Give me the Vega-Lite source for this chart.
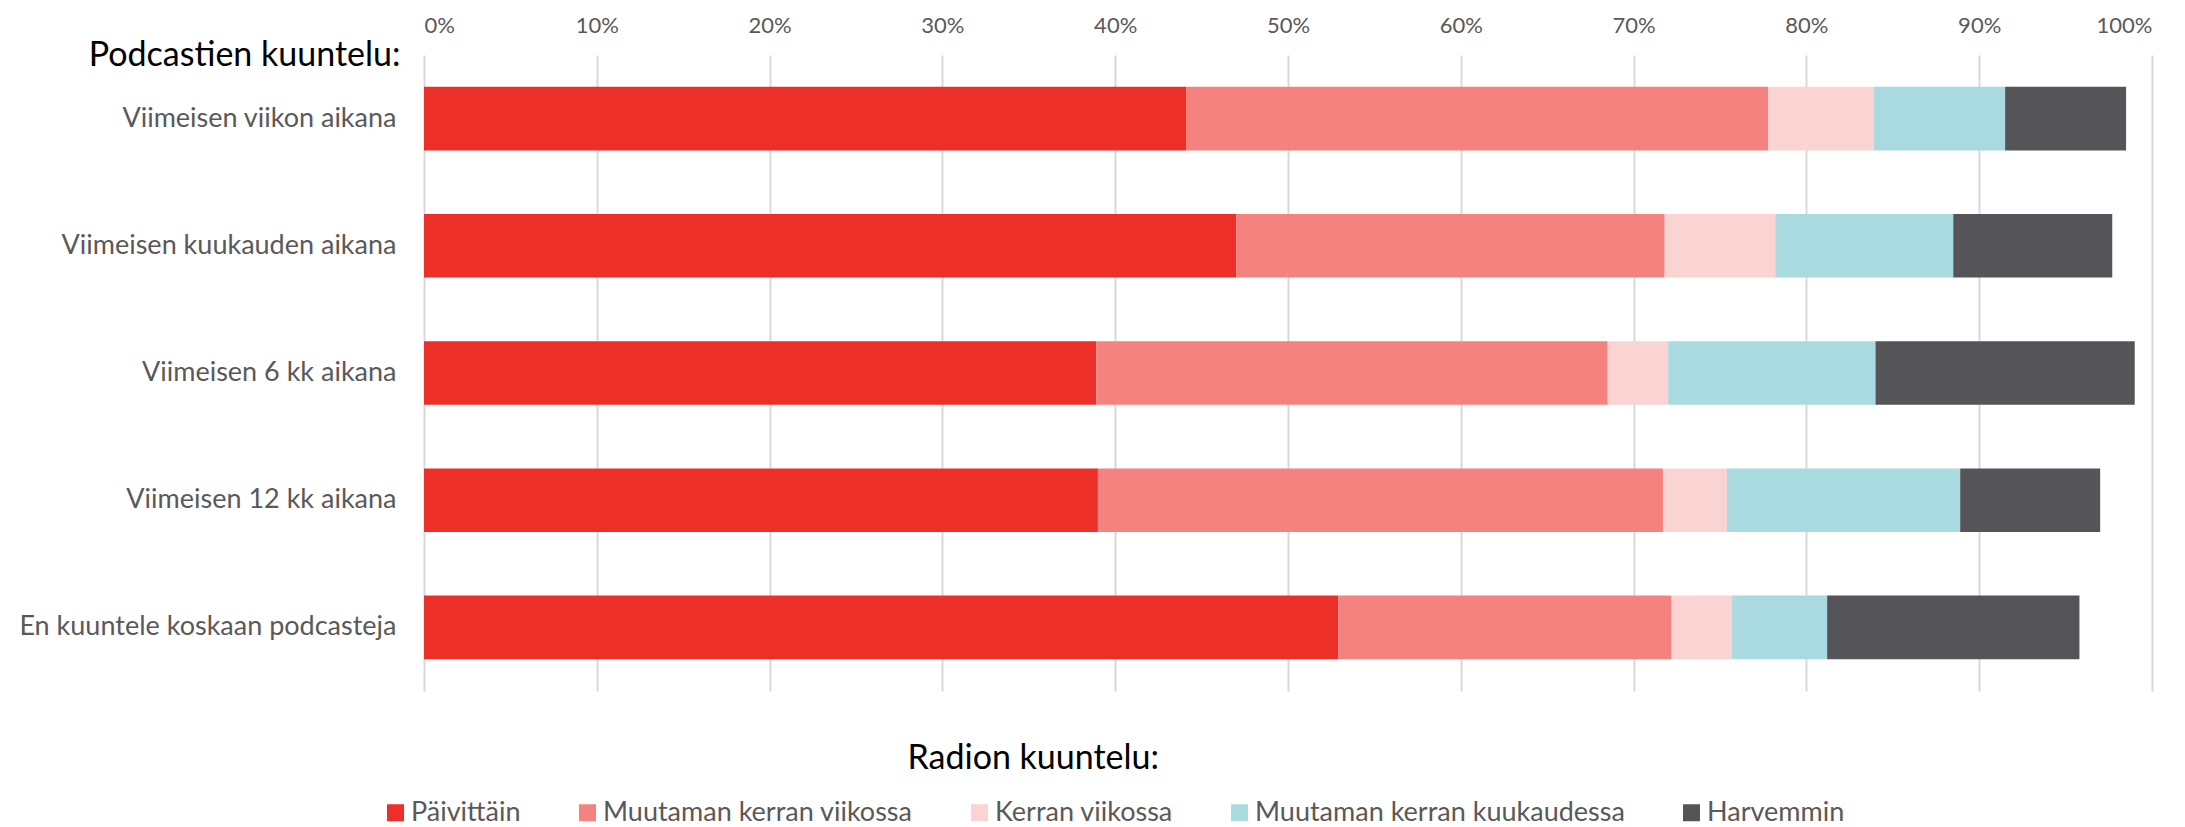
{
  "$schema": "https://vega.github.io/schema/vega-lite/v6.json",
  "autosize": {"type": "none"},
  "width": 1728,
  "height": 636,
  "padding": {"left": 424, "top": 55, "right": 33, "bottom": 136},
  "background": "white",
  "config": {
    "font": "Lato",
    "view": {"stroke": null}
  },
  "data": {
    "values": [
      {"kysymys": "Viimeisen viikon aikana", "radio": "Päivittäin", "k": 1, "osuus": 44.1},
      {"kysymys": "Viimeisen viikon aikana", "radio": "Muutaman kerran viikossa", "k": 2, "osuus": 33.7},
      {"kysymys": "Viimeisen viikon aikana", "radio": "Kerran viikossa", "k": 3, "osuus": 6.1},
      {"kysymys": "Viimeisen viikon aikana", "radio": "Muutaman kerran kuukaudessa", "k": 4, "osuus": 7.6},
      {"kysymys": "Viimeisen viikon aikana", "radio": "Harvemmin", "k": 5, "osuus": 7.0},
      {"kysymys": "Viimeisen kuukauden aikana", "radio": "Päivittäin", "k": 1, "osuus": 47.0},
      {"kysymys": "Viimeisen kuukauden aikana", "radio": "Muutaman kerran viikossa", "k": 2, "osuus": 24.8},
      {"kysymys": "Viimeisen kuukauden aikana", "radio": "Kerran viikossa", "k": 3, "osuus": 6.4},
      {"kysymys": "Viimeisen kuukauden aikana", "radio": "Muutaman kerran kuukaudessa", "k": 4, "osuus": 10.3},
      {"kysymys": "Viimeisen kuukauden aikana", "radio": "Harvemmin", "k": 5, "osuus": 9.2},
      {"kysymys": "Viimeisen 6 kk aikana", "radio": "Päivittäin", "k": 1, "osuus": 38.9},
      {"kysymys": "Viimeisen 6 kk aikana", "radio": "Muutaman kerran viikossa", "k": 2, "osuus": 29.6},
      {"kysymys": "Viimeisen 6 kk aikana", "radio": "Kerran viikossa", "k": 3, "osuus": 3.5},
      {"kysymys": "Viimeisen 6 kk aikana", "radio": "Muutaman kerran kuukaudessa", "k": 4, "osuus": 12.0},
      {"kysymys": "Viimeisen 6 kk aikana", "radio": "Harvemmin", "k": 5, "osuus": 15.0},
      {"kysymys": "Viimeisen 12 kk aikana", "radio": "Päivittäin", "k": 1, "osuus": 39.0},
      {"kysymys": "Viimeisen 12 kk aikana", "radio": "Muutaman kerran viikossa", "k": 2, "osuus": 32.7},
      {"kysymys": "Viimeisen 12 kk aikana", "radio": "Kerran viikossa", "k": 3, "osuus": 3.7},
      {"kysymys": "Viimeisen 12 kk aikana", "radio": "Muutaman kerran kuukaudessa", "k": 4, "osuus": 13.5},
      {"kysymys": "Viimeisen 12 kk aikana", "radio": "Harvemmin", "k": 5, "osuus": 8.1},
      {"kysymys": "En kuuntele koskaan podcasteja", "radio": "Päivittäin", "k": 1, "osuus": 52.9},
      {"kysymys": "En kuuntele koskaan podcasteja", "radio": "Muutaman kerran viikossa", "k": 2, "osuus": 19.3},
      {"kysymys": "En kuuntele koskaan podcasteja", "radio": "Kerran viikossa", "k": 3, "osuus": 3.5},
      {"kysymys": "En kuuntele koskaan podcasteja", "radio": "Muutaman kerran kuukaudessa", "k": 4, "osuus": 5.5},
      {"kysymys": "En kuuntele koskaan podcasteja", "radio": "Harvemmin", "k": 5, "osuus": 14.6}
    ]
  },
  "mark": {"type": "bar"},
  "encoding": {
    "y": {
      "field": "kysymys",
      "type": "nominal",
      "sort": null,
      "scale": {"paddingInner": 0.5, "paddingOuter": 0.25},
      "axis": {
        "title": "Podcastien kuuntelu:",
        "titleAngle": 0,
        "titleAlign": "right",
        "titleBaseline": "alphabetic",
        "titleX": -24,
        "titleY": 10,
        "titleFontSize": 34,
        "titleFontWeight": "normal",
        "titleColor": "#000000",
        "labelFontSize": 27,
        "labelColor": "#595959",
        "labelPadding": 28,
        "labelLimit": 500,
        "ticks": false,
        "tickSize": 0,
        "domain": false
      }
    },
    "x": {
      "field": "osuus",
      "type": "quantitative",
      "stack": "zero",
      "scale": {"domain": [0, 100], "nice": false},
      "axis": {
        "orient": "top",
        "title": "Radion kuuntelu:",
        "titleAngle": 0,
        "titleAlign": "left",
        "titleAnchor": null,
        "titleBaseline": "alphabetic",
        "titleX": 483,
        "titleY": 713,
        "titleFontSize": 34,
        "titleFontWeight": "normal",
        "titleColor": "#000000",
        "values": [0, 10, 20, 30, 40, 50, 60, 70, 80, 90, 100],
        "labelExpr": "datum.value + '%'",
        "labelFontSize": 22,
        "labelColor": "#595959",
        "labelBaseline": "alphabetic",
        "labelPadding": 23,
        "ticks": false,
        "tickSize": 0,
        "domain": false,
        "grid": true,
        "gridColor": "#D9D9D9",
        "gridWidth": 2
      }
    },
    "color": {
      "field": "radio",
      "type": "nominal",
      "scale": {
        "domain": ["Päivittäin", "Muutaman kerran viikossa", "Kerran viikossa", "Muutaman kerran kuukaudessa", "Harvemmin"],
        "range": ["#ED2F2A", "#F4837F", "#FAD4D3", "#A8DAE0", "#545459"]
      },
      "legend": {
        "title": null,
        "orient": "none",
        "direction": "horizontal",
        "legendX": -42,
        "legendY": 744,
        "symbolType": "square",
        "symbolSize": 289,
        "symbolStrokeWidth": 0,
        "labelFontSize": 27,
        "labelColor": "#595959",
        "labelOffset": 2,
        "labelLimit": 600,
        "columnPadding": 53
      }
    },
    "order": {"field": "k", "type": "quantitative"}
  }
}
